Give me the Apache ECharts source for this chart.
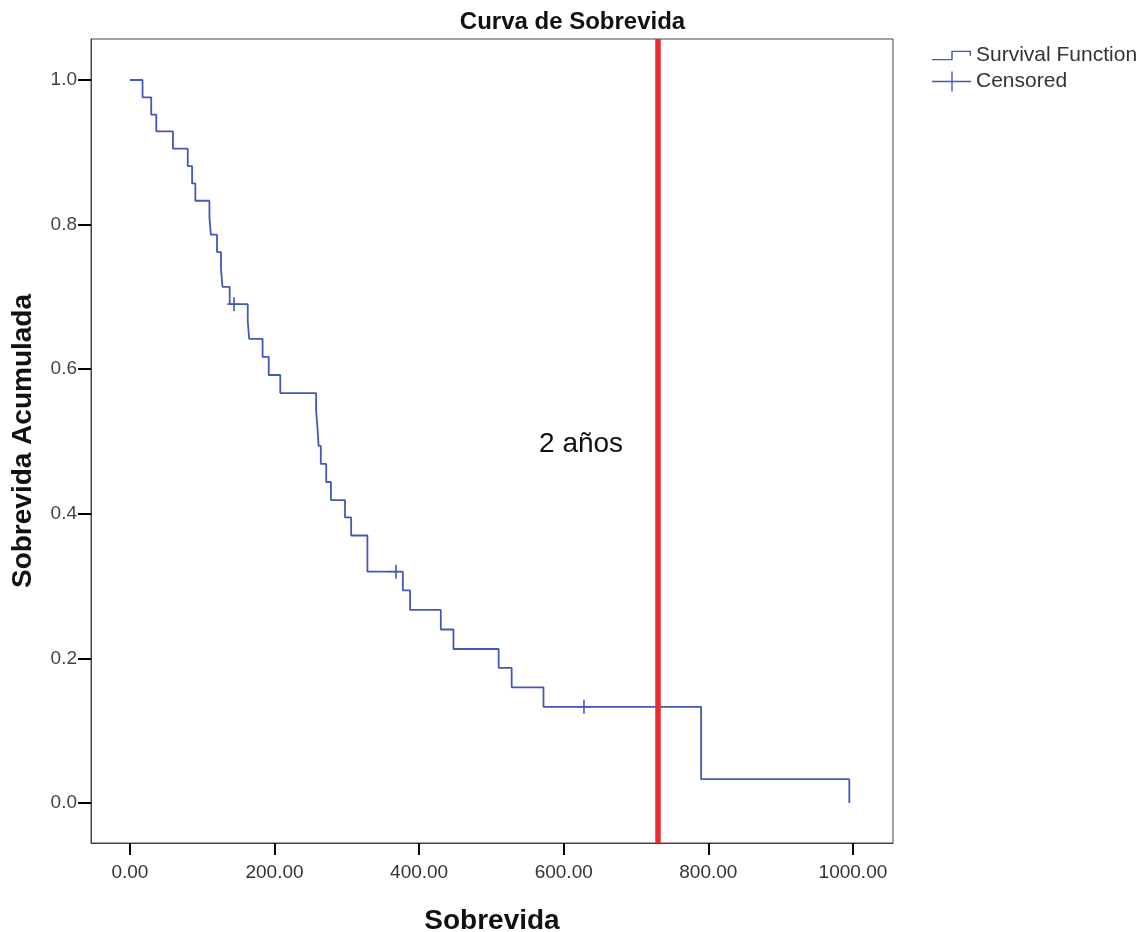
<!DOCTYPE html>
<html>
<head>
<meta charset="utf-8">
<script src="https://cdn.jsdelivr.net/npm/echarts@6/dist/echarts.min.js"></script>
<style>
html,body{margin:0;padding:0;background:#fff;}
#chart{width:1145px;height:932px;}
</style>
</head>
<body>
<div id="chart"></div>
<script>
// Kaplan-Meier step data (time in days, cumulative survival)
const times = [0, 17.5, 29.5, 36.5, 59.5, 80, 86, 90.5, 110, 112, 120.5, 126, 128, 138, 163, 165, 183.5, 192, 208, 257.5, 259.5, 261, 264, 271.5, 278, 297.5, 306, 328.5, 377.5, 387.5, 430, 447.5, 510, 528, 572, 790, 995];
const survival = [1, 0.976, 0.952, 0.929, 0.905, 0.881, 0.857, 0.833, 0.810, 0.786, 0.762, 0.738, 0.714, 0.690, 0.666, 0.642, 0.617, 0.592, 0.567, 0.543, 0.518, 0.494, 0.469, 0.444, 0.419, 0.395, 0.370, 0.320, 0.294, 0.267, 0.240, 0.213, 0.187, 0.160, 0.133, 0.033, 0];
// Censored observations
const censorTimes = [144, 368, 628];
const censorSurv = [0.690, 0.320, 0.133];
// Axis ticks
const xTicks = [0, 200, 400, 600, 800, 1000];
const yTicks = [0, 0.2, 0.4, 0.6, 0.8, 1.0];
// Reference line (2 years) and its annotation
const refLineX = 730;
const annotationText = '2 años';
const annotationPos = [624, 0.4965];

const FONT = '"Liberation Sans", Arial, Helvetica, sans-serif';
const BLUE = '#4358b8';
const RED = '#ec2a2f';

const kmData = times.map((t, i) => [t, survival[i]]);
const censData = censorTimes.map((t, i) => [t, censorSurv[i]]);

const stepIcon = 'path://M0,8.3L19.3,8.3L19.3,0L39,0L39,5L37.6,5L37.6,1.4L20.7,1.4L20.7,9.7L0,9.7Z';
const plusIconLegend = 'path://M0,9.3L39,9.3L39,10.7L0,10.7Z M19.3,0L20.7,0L20.7,20L19.3,20Z';
const plusSymbol = 'path://M0,6.3L14,6.3L14,7.7L0,7.7Z M6.2,0L7.8,0L7.8,14L6.2,14Z';

const chart = echarts.init(document.getElementById('chart'), null, {renderer: 'canvas'});
chart.setOption({
  backgroundColor: '#ffffff',
  animation: false,
  title: {
    text: 'Curva de Sobrevida',
    left: 'center',
    top: 10,
    padding: 0,
    textStyle: {fontFamily: FONT, fontSize: 24, fontWeight: 'bold', color: '#111'}
  },
  legend: [
    {
      orient: 'vertical',
      left: 932,
      top: 45,
      padding: 0,
      itemWidth: 39,
      itemHeight: 10,
      data: [{name: 'Survival Function', icon: stepIcon}],
      textStyle: {fontFamily: FONT, fontSize: 21, color: '#333'},
      selectedMode: false
    },
    {
      orient: 'vertical',
      left: 932,
      top: 71,
      padding: 0,
      itemWidth: 39,
      itemHeight: 20,
      data: [{name: 'Censored', icon: plusIconLegend}],
      textStyle: {fontFamily: FONT, fontSize: 21, color: '#333'},
      selectedMode: false
    }
  ],
  grid: {
    left: 91, right: 252, top: 39, bottom: 89,
    outerBoundsMode: 'none',
    containLabel: false,
    show: true, borderColor: '#444', borderWidth: 1, backgroundColor: '#fff'
  },
  xAxis: {
    type: 'value',
    min: -53.8,
    max: 1055.4,
    name: 'Sobrevida',
    nameLocation: 'middle',
    nameGap: 64,
    nameTextStyle: {fontFamily: FONT, fontSize: 28, fontWeight: 'bold', color: '#111'},
    axisLine: {show: true, onZero: false, lineStyle: {color: '#444', width: 1}},
    axisTick: {show: true, customValues: xTicks, length: 12, lineStyle: {color: '#000', width: 2}},
    axisLabel: {customValues: xTicks, fontFamily: FONT, fontSize: 19, color: '#333', margin: 20,
      formatter: v => Number(v).toFixed(2)},
    splitLine: {show: false}
  },
  yAxis: {
    type: 'value',
    min: -0.0553,
    max: 1.0567,
    name: 'Sobrevida Acumulada',
    nameLocation: 'middle',
    nameGap: 54,
    nameTextStyle: {fontFamily: FONT, fontSize: 28, fontWeight: 'bold', color: '#111'},
    axisLine: {show: true, onZero: false, lineStyle: {color: '#444', width: 1}},
    axisTick: {show: true, customValues: yTicks, length: 13, lineStyle: {color: '#000', width: 2}},
    axisLabel: {customValues: yTicks, fontFamily: FONT, fontSize: 19, color: '#444', margin: 14,
      formatter: v => Number(v).toFixed(1)},
    splitLine: {show: false}
  },
  series: [
    {
      name: 'Survival Function',
      type: 'line',
      step: 'end',
      data: kmData,
      showSymbol: false,
      symbol: 'none',
      sampling: null,
      lineStyle: {color: BLUE, width: 1.8},
      itemStyle: {color: BLUE},
      z: 3,
      markLine: {
        silent: true,
        symbol: ['none', 'none'],
        label: {show: false},
        lineStyle: {color: RED, width: 5.5, type: 'solid', opacity: 1},
        data: [{xAxis: refLineX}],
        z: 4
      }
    },
    {
      name: 'Censored',
      type: 'scatter',
      data: censData,
      symbol: plusSymbol,
      symbolSize: 14,
      itemStyle: {color: BLUE, opacity: 1},
      z: 5
    },
    {
      name: 'annotation',
      type: 'scatter',
      data: [annotationPos],
      symbolSize: 1,
      itemStyle: {color: 'rgba(0,0,0,0)', opacity: 1},
      label: {
        show: true,
        position: 'inside',
        formatter: annotationText,
        fontFamily: FONT,
        fontSize: 28,
        color: '#111',
        opacity: 1
      },
      silent: true,
      z: 6
    }
  ]
});
</script>
</body>
</html>
